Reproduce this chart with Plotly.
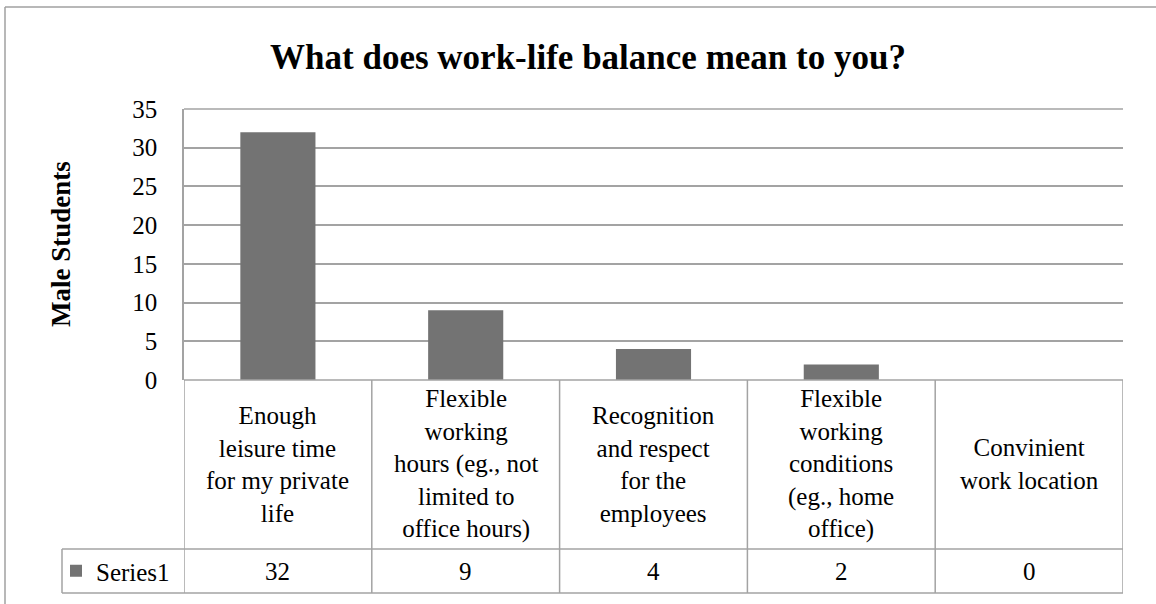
import plotly.graph_objects as go

# data
categories = [
    "Enough leisure time for my private life",
    "Flexible working hours (eg., not limited to office hours)",
    "Recognition and respect for the employees",
    "Flexible working conditions (eg., home office)",
    "Convinient work location",
]
# how the labels wrap inside the data table cells
category_lines = [
    ["Enough", "leisure time", "for my private", "life"],
    ["Flexible", "working", "hours (eg., not", "limited to", "office hours)"],
    ["Recognition", "and respect", "for the", "employees"],
    ["Flexible", "working", "conditions", "(eg., home", "office)"],
    ["Convinient", "work location"],
]
values = [32, 9, 4, 2, 0]
series_name = "Series1"
y_ticks = [0, 5, 10, 15, 20, 25, 30, 35]

title = "What does work-life balance mean to you?"
y_title = "Male Students"

FONT = "Liberation Serif"
GRID = "#a3a3a3"
BAR = "#737373"

W, H = 1156, 604
L, R, T, B = 184, 1123, 109, 380   # plot area in pixels
pw, ph = R - L, B - T


def px(x):
    return (x - L) / pw


def py(y):
    return (B - y) / ph


fig = go.Figure()
fig.add_trace(go.Bar(
    x=list(range(len(values))),
    y=values,
    name=series_name,
    width=0.4,
    marker=dict(color=BAR, line=dict(width=0)),
    showlegend=True,
))

fig.update_layout(
    width=W, height=H,
    margin=dict(l=L, r=W - R, t=T, b=H - B, autoexpand=False),
    plot_bgcolor="white", paper_bgcolor="white",
    font=dict(family=FONT, size=25, color="black"),
    title=dict(text="<b>" + title + "</b>", x=588 / W, xref="container", xanchor="center",
               y=1 - 57 / H, yref="container", yanchor="middle",
               font=dict(family=FONT, size=35, color="black")),
    bargap=0.6,
    legend=dict(x=px(56), y=py(571), xanchor="left", yanchor="middle",
                bgcolor="rgba(0,0,0,0)", font=dict(size=25), itemwidth=30),
)

fig.update_xaxes(range=[-0.5, len(values) - 0.5], showticklabels=False, showgrid=False,
                 zeroline=False, showline=False, ticks="")
fig.update_yaxes(range=[0, 35], tickvals=y_ticks, showgrid=True, gridcolor=GRID, gridwidth=1.5,
                 zeroline=False, showline=True, linecolor=GRID, linewidth=1.5,
                 ticks="", ticklabelstandoff=20, tickfont=dict(size=25))

shapes = []
line = dict(color=GRID, width=1.5)
# table: top line (axis baseline) and header row
shapes.append(dict(type="line", xref="paper", yref="paper", x0=0, x1=1, y0=0, y1=0, line=line))
shapes.append(dict(type="line", xref="paper", yref="paper", x0=0, x1=1, y0=1, y1=1, line=line))
for yy in [549, 593]:
    shapes.append(dict(type="line", xref="paper", yref="paper", x0=px(62), x1=1,
                       y0=py(yy), y1=py(yy), line=line))
shapes.append(dict(type="line", xref="paper", yref="paper", x0=px(62), x1=px(62),
                   y0=py(549), y1=py(593), line=line))
for i in range(len(values) + 1):
    shapes.append(dict(type="line", xref="x", yref="paper", x0=i - 0.5, x1=i - 0.5,
                       y0=0, y1=py(593), line=line))
# outer chart border (only left and top show in the crop)
shapes.append(dict(type="line", xref="paper", yref="paper", x0=px(5), x1=px(5),
                   y0=py(7), y1=py(640), line=dict(color="#a0a0a0", width=1.5)))
shapes.append(dict(type="line", xref="paper", yref="paper", x0=px(5), x1=px(1200),
                   y0=py(7), y1=py(7), line=dict(color="#a0a0a0", width=1.5)))
fig.update_layout(shapes=shapes)

annotations = []
for i, lines in enumerate(category_lines):
    annotations.append(dict(x=i, xref="x", y=py(464), yref="paper", text="<br>".join(lines),
                            showarrow=False, xanchor="center", yanchor="middle",
                            font=dict(size=25)))
    annotations.append(dict(x=i, xref="x", y=py(571), yref="paper", text=str(values[i]),
                            showarrow=False, xanchor="center", yanchor="middle",
                            font=dict(size=25)))
annotations.append(dict(x=px(61), xref="paper", y=py(244), yref="paper",
                        text="<b>" + y_title + "</b>", textangle=-90, showarrow=False,
                        xanchor="center", yanchor="middle", font=dict(size=27)))
fig.update_layout(annotations=annotations)

# drop the browser's default 8px body margin so the figure sits at the page corner
fig.write_html("out.html", config={"displayModeBar": False},
               post_script="document.body.style.margin = '0';")
